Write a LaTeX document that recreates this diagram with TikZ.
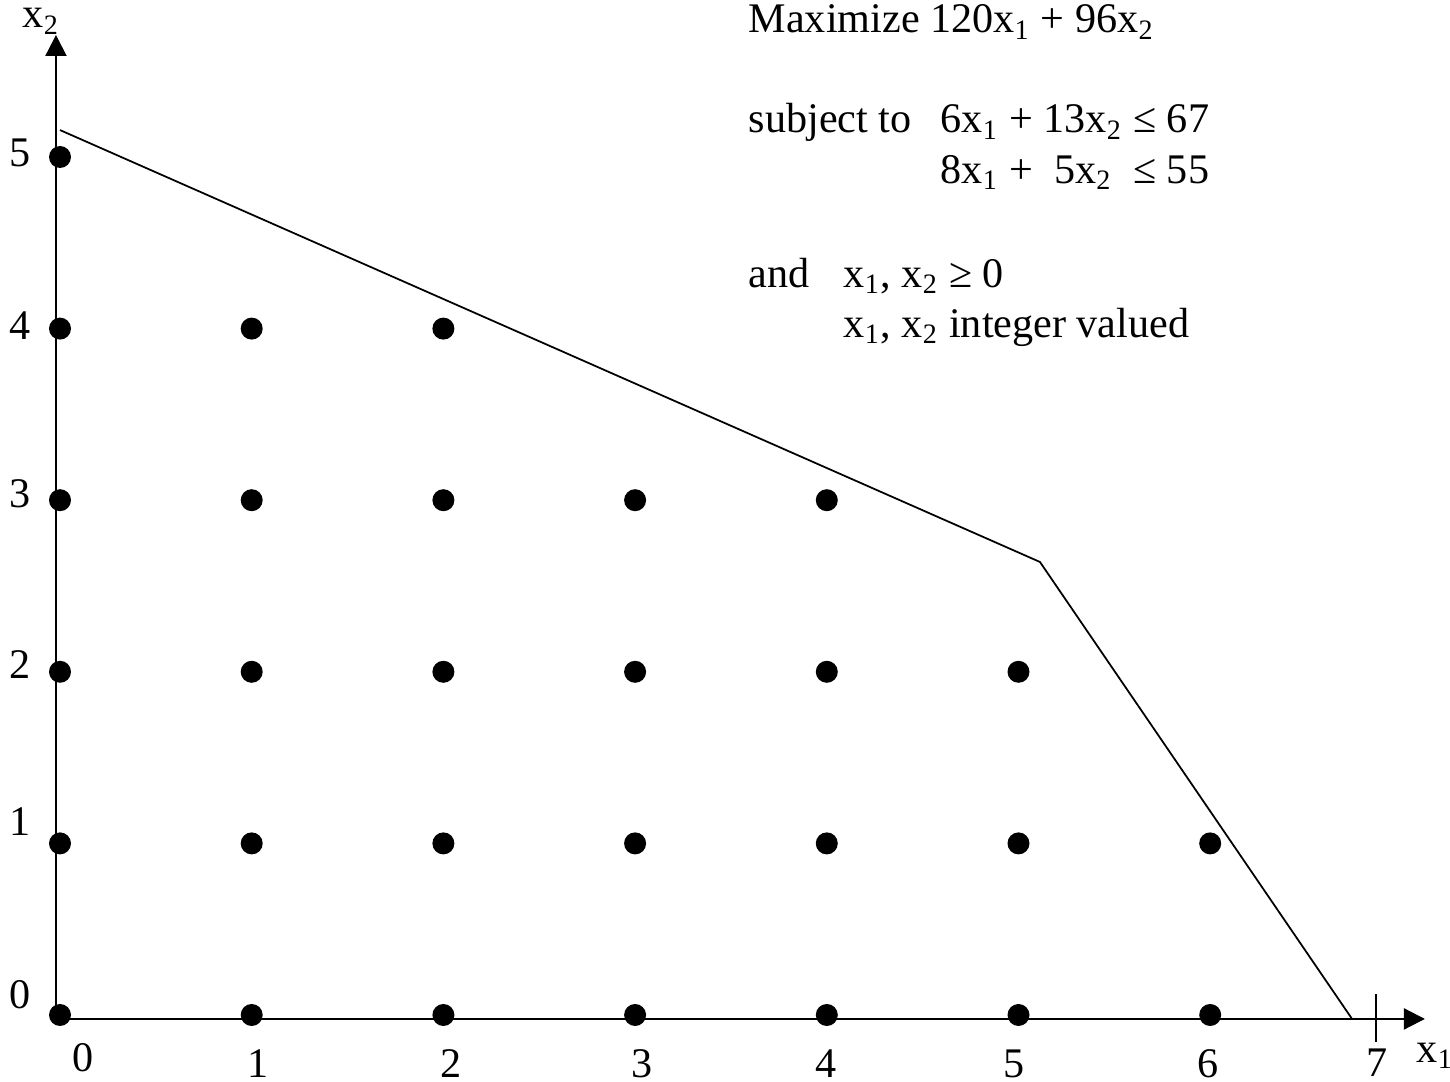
\documentclass[tikz,border=0pt]{standalone}
\usepackage{fontspec}
\setmainfont{Liberation Serif}
\usetikzlibrary{arrows.meta}

\begin{document}
\begin{tikzpicture}[x=1.917cm, y=1.716cm,
    >={Triangle[length=2.1mm, width=2.1mm]},
    every node/.style={inner sep=0pt, font=\fontsize{12}{14}\selectfont},
    txt/.style={anchor=base west},
    pt/.style={fill=black}]
    \useasboundingbox (-0.313,-0.390) rectangle (7.251,5.915);

    % Hệ trục tọa độ
    \coordinate (O) at (-0.021,-0.023);
    \coordinate (xend) at (7.12,-0.023);
    \coordinate (yend) at (-0.021,5.711);
    \draw[->, line width=0.6pt] (O) -- (xend);
    \draw[->, line width=0.6pt] (O) -- (yend);
    \node[txt] (xlab) at (7.074,-0.274) {x\textsubscript{1}};
    \node[txt] (ylab) at (-0.198,5.752) {x\textsubscript{2}};

    % vạch tại 7
    \coordinate (t1) at (6.865,0.122);
    \coordinate (t2) at (6.865,-0.157);
    \draw[line width=0.5pt] (t1) -- (t2);

    % số trên các trục
    \foreach \k/\px/\py in {0/0.120/-0.251, 1/1.033/-0.285, 2/2.040/-0.285,
        3/3.036/-0.285, 4/3.996/-0.285, 5/4.977/-0.285, 6/5.989/-0.285,
        7/6.870/-0.280}
        \node (nx\k) at (\px,\py) {\k};
    \foreach \k/\py in {0/0.117, 1/1.125, 2/2.045, 3/3.036, 4/4.020, 5/5.023}
        \node (ny\k) at (-0.209,\py) {\k};

    % Miền ràng buộc
    \coordinate (top) at (0,5.157);
    \coordinate (corner) at (5.112,2.640);
    \coordinate (cross) at (6.740,-0.023);
    \draw[line width=0.5pt] (top) -- (corner) -- (cross);

    % Các điểm nguyên
    \foreach \j/\n in {0/6, 1/6, 2/5, 3/4, 4/2, 5/0}
        \foreach \i in {0,...,\n}
            \fill[pt] (\i,\j) circle (1.1mm);

    % Bài toán
    \node[txt] (obj) at (3.589,5.723) {Maximize 120x\textsubscript{1} + 96x\textsubscript{2}};
    \node[txt] (st) at (3.589,5.140) {subject to};
    \node[txt] (c1) at (4.591,5.140) {6x\textsubscript{1} + 13x\textsubscript{2} ≤ 67};
    \node[txt] (c2) at (4.591,4.848) {8x\textsubscript{1} +\ \ 5x\textsubscript{2}\ \ ≤ 55};
    \node[txt] (and) at (3.589,4.242) {and};
    \node[txt] (nn) at (4.085,4.242) {x\textsubscript{1}, x\textsubscript{2} ≥ 0};
    \node[txt] (int) at (4.085,3.951) {x\textsubscript{1}, x\textsubscript{2} integer valued};
\end{tikzpicture}
\end{document}
